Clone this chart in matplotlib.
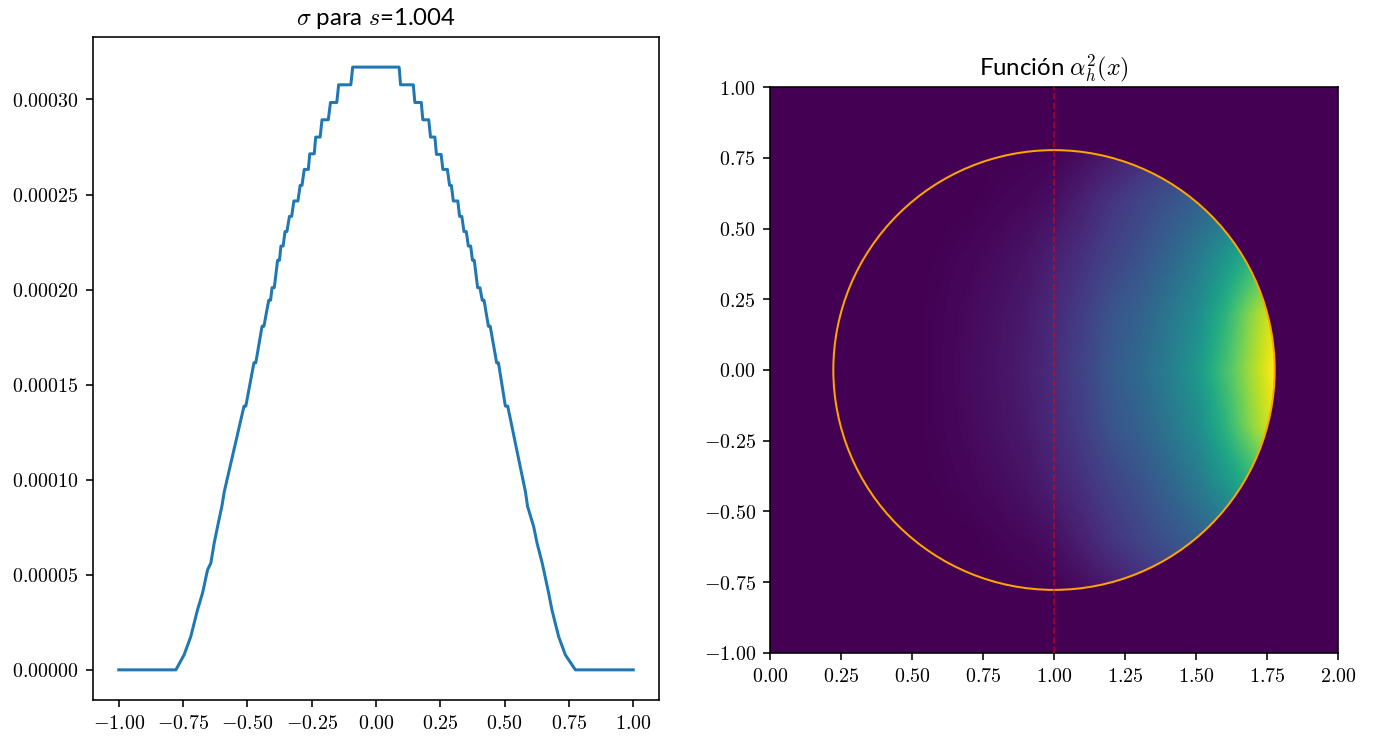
import matplotlib
matplotlib.use("Agg")
import matplotlib.pyplot as plt
import matplotlib.patches as patches
from matplotlib.ticker import FuncFormatter, MultipleLocator
import numpy as np

plt.rcParams['mathtext.fontset'] = 'cm'
plt.rcParams['font.family'] = ['Lato', 'DejaVu Sans']

# sigma(x) for s=1.004, values in units of 1e-4
x_left = [-1.000, -0.778, -0.746, -0.720, -0.694, -0.674, -0.655, -0.642,
          -0.629, -0.616, -0.599, -0.590, -0.513, -0.506, -0.4745, -0.4673,
          -0.4429, -0.4357, -0.4170, -0.4098, -0.4040, -0.3954, -0.3825, -0.3753,
          -0.3695, -0.3609, -0.3537, -0.3465, -0.3364, -0.3278, -0.3192, -0.3034,
          -0.2948, -0.2876, -0.2789, -0.2631, -0.2574, -0.2401, -0.2344, -0.2171,
          -0.2099, -0.1855, -0.1769, -0.1524, -0.1452, -0.0978, -0.0906]
s_left = [0.0, 0.0, 0.079, 0.175, 0.315, 0.405, 0.525, 0.562,
          0.667, 0.753, 0.861, 0.936, 1.387, 1.387, 1.615, 1.615,
          1.807, 1.807, 1.944, 1.944, 2.010, 2.010, 2.154, 2.154,
          2.229, 2.229, 2.305, 2.305, 2.385, 2.385, 2.466, 2.466,
          2.548, 2.548, 2.632, 2.632, 2.714, 2.714, 2.802, 2.802,
          2.893, 2.893, 2.984, 2.984, 3.077, 3.077, 3.170]
x_right = [0.0899, 0.0955, 0.145, 0.151, 0.176, 0.182, 0.205, 0.212,
           0.229, 0.235, 0.253, 0.260, 0.2775, 0.286, 0.293, 0.3005,
           0.318, 0.325, 0.3336, 0.342, 0.351, 0.359, 0.368, 0.375,
           0.382, 0.395, 0.404, 0.413, 0.420, 0.437, 0.444, 0.469,
           0.476, 0.503, 0.512, 0.581, 0.589, 0.613, 0.626, 0.646,
           0.652, 0.671, 0.684, 0.710, 0.736, 0.775, 1.000]
s_right = [3.170, 3.077, 3.077, 2.984, 2.984, 2.893, 2.893, 2.802,
           2.802, 2.711, 2.711, 2.632, 2.632, 2.548, 2.548, 2.466,
           2.466, 2.385, 2.385, 2.305, 2.305, 2.229, 2.229, 2.154,
           2.154, 2.010, 2.010, 1.944, 1.944, 1.807, 1.807, 1.615,
           1.615, 1.387, 1.387, 0.936, 0.861, 0.753, 0.667, 0.562,
           0.525, 0.405, 0.315, 0.175, 0.079, 0.0, 0.0]

# alpha_h^2 sampled on a coarse grid (normalised colour level 0..1)
alpha_x = [0.2, 0.3, 0.4, 0.5, 0.6, 0.7, 0.8, 0.9, 1.0, 1.1, 1.2, 1.3, 1.4, 1.5, 1.6, 1.7, 1.8]
alpha_y = [-0.8, -0.6, -0.4, -0.2, 0.0, 0.2, 0.4, 0.6, 0.8]
alpha_vals = [
    [0, 0, 0, 0, 0, 0, 0, 0, 0.0, 0.02, 0.05, 0.10, 0.15, 0.20, 0.25, 0.30, 0.35],
    [0, 0, 0, 0, 0, 0, 0.01, 0.02, 0.04, 0.09, 0.15, 0.20, 0.25, 0.30, 0.35, 0.40, 0.45],
    [0, 0, 0, 0, 0.005, 0.015, 0.03, 0.05, 0.09, 0.14, 0.20, 0.25, 0.32, 0.40, 0.52, 0.65, 0.80],
    [0, 0, 0, 0, 0.01, 0.025, 0.045, 0.07, 0.12, 0.18, 0.26, 0.31, 0.39, 0.48, 0.64, 0.84, 1.00],
    [0, 0, 0, 0, 0.01, 0.03, 0.05, 0.08, 0.13, 0.20, 0.28, 0.34, 0.42, 0.53, 0.70, 0.88, 1.05],
    [0, 0, 0, 0, 0.01, 0.025, 0.045, 0.07, 0.12, 0.18, 0.26, 0.31, 0.39, 0.48, 0.64, 0.84, 1.00],
    [0, 0, 0, 0, 0.005, 0.015, 0.03, 0.05, 0.09, 0.14, 0.20, 0.25, 0.32, 0.40, 0.52, 0.65, 0.80],
    [0, 0, 0, 0, 0, 0, 0.01, 0.02, 0.04, 0.09, 0.15, 0.20, 0.25, 0.30, 0.35, 0.40, 0.45],
    [0, 0, 0, 0, 0, 0, 0, 0, 0.0, 0.02, 0.05, 0.10, 0.15, 0.20, 0.25, 0.30, 0.35],
]
circle_center = (1.0, 0.0)
circle_radius = 0.777

fig = plt.figure(figsize=(1374 / 144, 738 / 144), dpi=144)
ax1 = fig.add_axes([0.0677, 0.0515, 0.4119, 0.8984])
ax2 = fig.add_axes([0.5604, 0.1152, 0.4134, 0.7669])

# left: sigma
xs = np.array(x_left + x_right)
ss = np.array(s_left + s_right) * 1e-4
ax1.plot(xs, ss, color='#1f77b4', lw=1.5)
ax1.set_title(r'$\sigma$ para $s$=1.004')
ax1.xaxis.set_major_locator(MultipleLocator(0.25))
ax1.yaxis.set_major_locator(MultipleLocator(0.00005))
ax1.xaxis.set_major_formatter(FuncFormatter(lambda v, p: f'${v:.2f}$'))
ax1.yaxis.set_major_formatter(FuncFormatter(lambda v, p: f'${v:.5f}$'))

# right: alpha_h^2
cmap = plt.get_cmap('viridis')
ax2.set_facecolor(cmap(0.0))
dx = alpha_x[1] - alpha_x[0]
dy = alpha_y[1] - alpha_y[0]
im = ax2.imshow(np.array(alpha_vals), origin='lower', cmap=cmap, vmin=0, vmax=1,
                extent=[alpha_x[0] - dx / 2, alpha_x[-1] + dx / 2,
                        alpha_y[0] - dy / 2, alpha_y[-1] + dy / 2],
                interpolation='bilinear', aspect='auto')
clip = patches.Circle(circle_center, circle_radius, transform=ax2.transData)
im.set_clip_path(clip)
ring = patches.Circle(circle_center, circle_radius, fill=False, ec='orange', lw=1.0, zorder=3)
ax2.add_patch(ring)
ax2.axvline(1.0, color='red', ls='--', lw=0.9, alpha=0.5, zorder=4)
ax2.set_xlim(0, 2)
ax2.set_ylim(-1, 1)
ax2.set_title(r'Función $\alpha_h^2(x)$')
ax2.xaxis.set_major_locator(MultipleLocator(0.25))
ax2.yaxis.set_major_locator(MultipleLocator(0.25))
ax2.xaxis.set_major_formatter(FuncFormatter(lambda v, p: f'${v:.2f}$'))
ax2.yaxis.set_major_formatter(FuncFormatter(lambda v, p: f'${v:.2f}$'))

fig.savefig('out.png', dpi=144)
